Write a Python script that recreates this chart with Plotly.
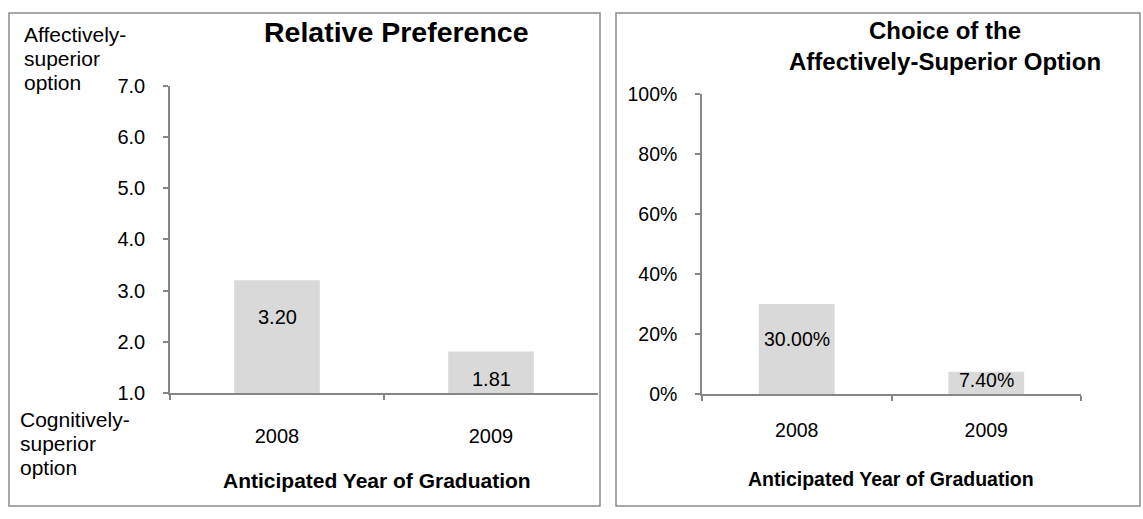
import plotly.graph_objects as go

# Data
years = ["2008", "2009"]
relative_preference = [3.20, 1.81]
choice_share = [0.30, 0.074]

pref_ticks = [1, 2, 3, 4, 5, 6, 7]
share_ticks = [0, 0.2, 0.4, 0.6, 0.8, 1.0]

W, H = 1143, 519
FONT = "Liberation Sans, Arial, sans-serif"
AXIS_GREY = "#868686"
BAR_GREY = "#d9d9d9"


def fx(px):
    return px / W


def fy(py):
    return 1 - py / H


fig = go.Figure()

fig.add_trace(go.Bar(
    x=years, y=relative_preference, width=0.4,
    marker=dict(color=BAR_GREY, line=dict(width=0)),
    xaxis="x", yaxis="y", showlegend=False, hoverinfo="x+y",
))
fig.add_trace(go.Bar(
    x=years, y=choice_share, width=0.4,
    marker=dict(color=BAR_GREY, line=dict(width=0)),
    xaxis="x2", yaxis="y2", showlegend=False, hoverinfo="x+y",
))

axis_common = dict(
    showline=True, linecolor=AXIS_GREY, linewidth=1.5,
    ticks="outside", ticklen=5, tickcolor=AXIS_GREY, tickwidth=1.5,
    showgrid=False, zeroline=False, fixedrange=True,
    tickfont=dict(family=FONT, size=20, color="#000"),
)

fig.update_layout(
    width=W, height=H,
    margin=dict(l=0, r=0, t=0, b=0),
    paper_bgcolor="white", plot_bgcolor="white",
    font=dict(family=FONT, color="#000"),
    xaxis=dict(axis_common, domain=[fx(170), fx(598)], anchor="y",
               type="category", range=[-0.5, 1.5], tickson="boundaries",
               tickangle=0, ticklabelstandoff=24),
    yaxis=dict(axis_common, domain=[fy(399), fy(78)], anchor="x",
               range=[1, 7], tickvals=pref_ticks, tickformat=".1f",
               ticklabelstandoff=14),
    xaxis2=dict(axis_common, domain=[fx(702), fx(1081)], anchor="y2",
                type="category", range=[-0.5, 1.5], tickson="boundaries",
                tickangle=0, ticklabelstandoff=18,
                tickfont=dict(family=FONT, size=19.5, color="#000")),
    yaxis2=dict(axis_common, domain=[fy(400), fy(87)], anchor="x2",
                range=[0, 1], tickvals=share_ticks, tickformat=".0%",
                ticklabelstandoff=14,
                tickfont=dict(family=FONT, size=19.5, color="#000")),
)

annotations = []

# Value labels placed inside the bars (x given as category index)
pref_label_dy = [-37, -27]
share_label_dy = [-35, -8]
for i, (v, dy) in enumerate(zip(relative_preference, pref_label_dy)):
    annotations.append(dict(x=i, y=v, xref="x", yref="y", text=f"{v:.2f}",
                            showarrow=False, yanchor="middle", yshift=dy,
                            font=dict(family=FONT, size=20, color="#000")))
for i, (v, dy) in enumerate(zip(choice_share, share_label_dy)):
    annotations.append(dict(x=i, y=v, xref="x2", yref="y2", text=f"{v:.2%}",
                            showarrow=False, yanchor="middle", yshift=dy,
                            font=dict(family=FONT, size=19.5, color="#000")))

# Chart titles
annotations.append(dict(x=fx(396), y=fy(22), xref="paper", yref="paper",
                        text="<b>Relative Preference</b>", showarrow=False,
                        xanchor="center", yanchor="middle",
                        font=dict(family=FONT, size=28.5, color="#000")))
annotations.append(dict(x=fx(945), y=fy(37), xref="paper", yref="paper",
                        text="<b>Choice of the<br>Affectively-Superior Option</b>",
                        showarrow=False, xanchor="center", yanchor="middle",
                        font=dict(family=FONT, size=24, color="#000")))

# Axis titles
annotations.append(dict(x=fx(377), y=fy(490), xref="paper", yref="paper",
                        text="<b>Anticipated Year of Graduation</b>",
                        showarrow=False, xanchor="center", yanchor="middle",
                        font=dict(family=FONT, size=21, color="#000")))
annotations.append(dict(x=fx(891), y=fy(489), xref="paper", yref="paper",
                        text="<b>Anticipated Year of Graduation</b>",
                        showarrow=False, xanchor="center", yanchor="middle",
                        font=dict(family=FONT, size=19.5, color="#000")))

# Scale end descriptions on the preference chart
top_lines = ["Affectively-", "superior", "option"]
bottom_lines = ["Cognitively-", "superior", "option"]
for i, line in enumerate(top_lines):
    annotations.append(dict(x=fx(22), y=fy(25 + 25 * i), xref="paper", yref="paper",
                            text=line, showarrow=False, xanchor="left",
                            yanchor="middle",
                            font=dict(family=FONT, size=21, color="#000")))
for i, line in enumerate(bottom_lines):
    annotations.append(dict(x=fx(18), y=fy(427 + 25 * i), xref="paper", yref="paper",
                            text=line, showarrow=False, xanchor="left",
                            yanchor="middle",
                            font=dict(family=FONT, size=21, color="#000")))

fig.update_layout(annotations=annotations)

# Panel frames
frame = dict(type="rect", xref="paper", yref="paper",
             line=dict(color="#8c8c8c", width=1.5), fillcolor="rgba(0,0,0,0)",
             layer="below")
fig.add_shape(frame, x0=fx(9), x1=fx(600), y0=fy(517), y1=fy(2))
fig.add_shape(frame, x0=fx(616), x1=fx(1140), y0=fy(517), y1=fy(2))

fig.write_html("out.html", config={"displayModeBar": False})
